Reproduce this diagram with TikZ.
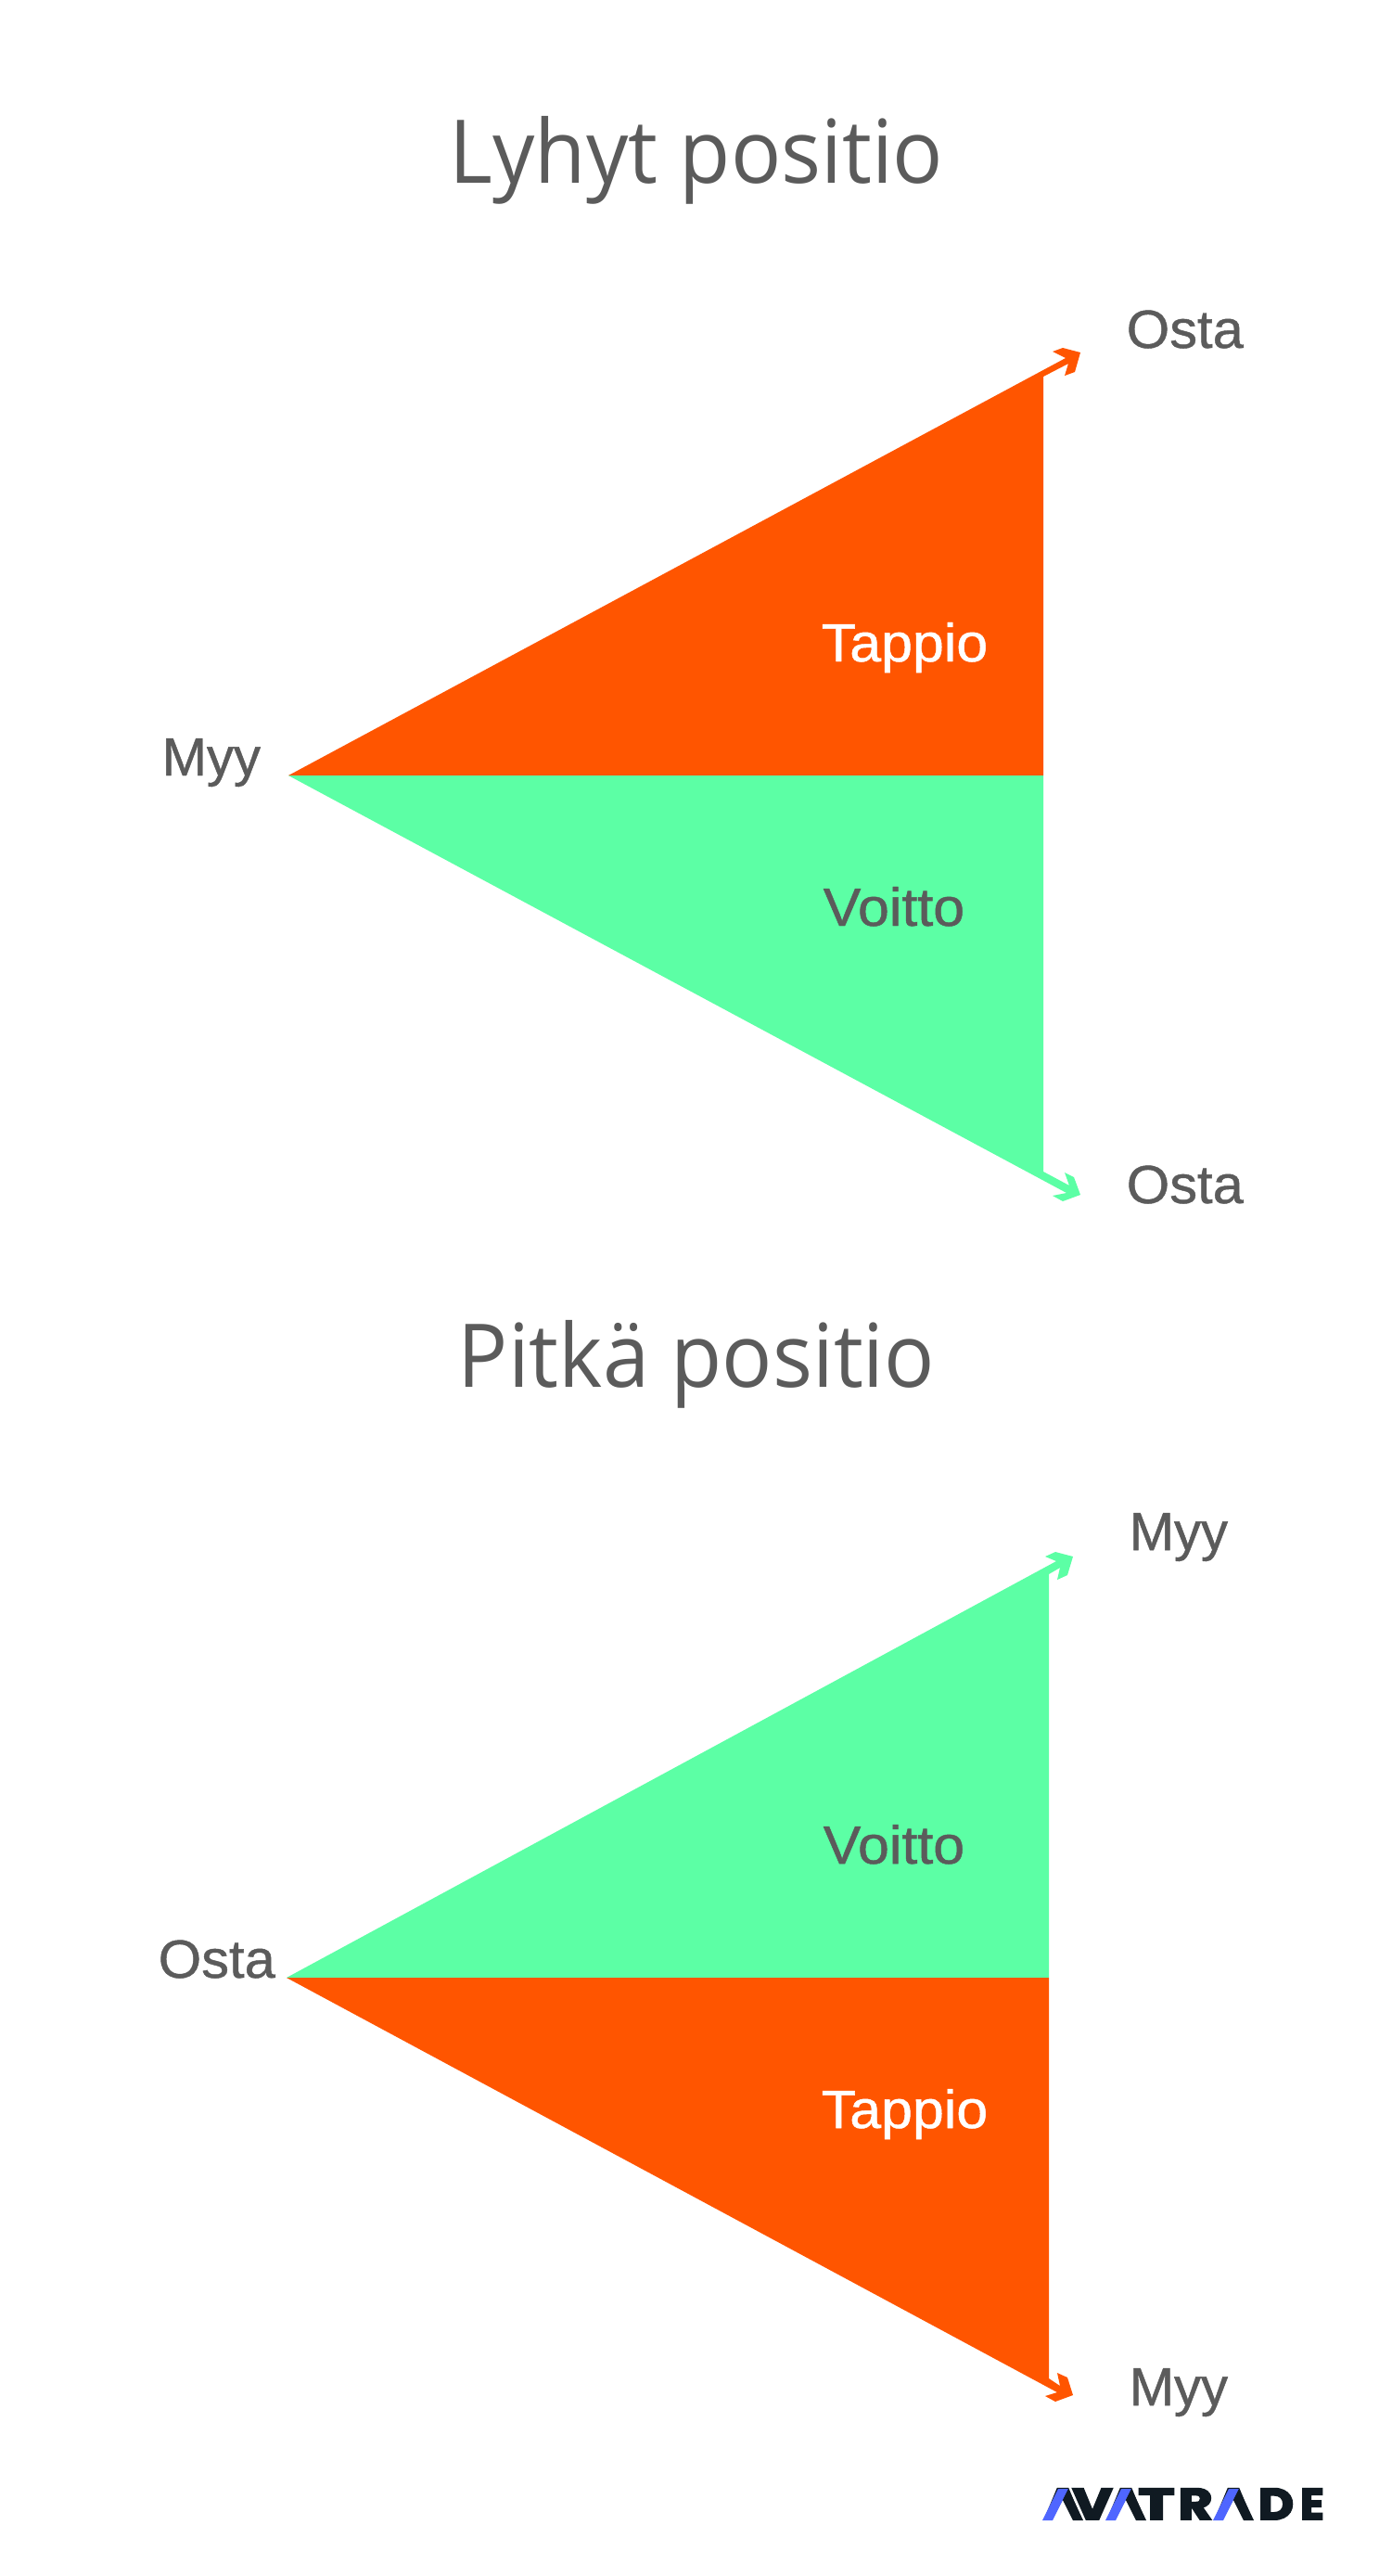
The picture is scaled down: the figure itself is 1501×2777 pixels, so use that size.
\documentclass[tikz,border=0pt]{standalone}
\usepackage{fontspec}
\setmainfont{Liberation Sans}[FakeBold=0.8]
\newfontfamily\titlefont{Open Sans}[FakeStretch=0.95]
\newfontfamily\logofont{Poppins}[BoldFont={Poppins Bold},BoldFeatures={FakeBold=4}]
\definecolor{accentloss}{RGB}{255,85,0}
\definecolor{accentgain}{RGB}{92,255,165}
\definecolor{labelgray}{RGB}{91,91,91}
\definecolor{logodark}{RGB}{16,26,34}
\definecolor{logoblue}{RGB}{79,102,255}
\tikzset{
    titletext/.style={anchor=base, inner sep=0pt, labelgray, font=\titlefont\fontsize{27}{27}\selectfont},
    pricetext/.style={anchor=base west, inner sep=0pt, labelgray, transform shape, font=\fontsize{16.5}{16.5}\selectfont},
    logoletter/.style={anchor=base, inner sep=0pt, logodark, transform shape, font=\logofont\bfseries\fontsize{13.5}{13.5}\selectfont}
}

\begin{document}
\begin{tikzpicture}[x=0.1mm, y=-0.1mm]
    \fill[white] (0,0) rectangle (1501,2777);

    % Short position
    \node[titletext] (titleshort) at (751,197) {Lyhyt positio};
    \coordinate (sell) at (311,836);
    \fill[accentloss] (sell) -- (1149,386) -- (1135,379) -- (1146,375) -- (1165,380) -- (1159,401)
        -- (1148,405) -- (1152,392) -- (1125,406) -- (1125,836) -- cycle;
    \fill[accentgain] (sell) -- (1125,836) -- (1125,1263) -- (1153,1278) -- (1148,1264) -- (1158,1269)
        -- (1165,1288) -- (1146,1295) -- (1135,1289) -- (1150,1286) -- cycle;
    \node[pricetext] (sellleft) at (174,836) {Myy};
    \node[pricetext, xscale=1.03] (buyup) at (1214,375) {Osta};
    \node[pricetext, xscale=1.03] (buydown) at (1214,1297) {Osta};
    \node[pricetext, white, xscale=1.05] (lossshort) at (885,713) {Tappio};
    \node[pricetext, xscale=1.05] (gainshort) at (887,998) {Voitto};

    % Long position
    \node[titletext] (titlelong) at (751,1495) {Pitkä positio};
    \coordinate (buy) at (309,2132);
    \fill[accentgain] (buy) -- (1139,1683) -- (1127,1678) -- (1138,1673) -- (1157,1678) -- (1151,1698)
        -- (1140,1703) -- (1143,1690) -- (1131,1697) -- (1131,2132) -- cycle;
    \fill[accentloss] (buy) -- (1131,2132) -- (1131,2564) -- (1143,2572) -- (1140,2558) -- (1151,2563)
        -- (1157,2582) -- (1138,2589) -- (1127,2583) -- (1140,2579) -- cycle;
    \node[pricetext, xscale=1.03] (buyleft) at (170,2132) {Osta};
    \node[pricetext] (sellup) at (1217,1671) {Myy};
    \node[pricetext] (selldown) at (1217,2593) {Myy};
    \node[pricetext, xscale=1.05] (gainlong) at (887,2009) {Voitto};
    \node[pricetext, white, xscale=1.05] (losslong) at (885,2294) {Tappio};

    % Logo
    \node[logoletter, xscale=1.15] (logoa) at (1146,2716) {A};
    \node[logoletter, xscale=1.15] (logoc) at (1214,2716) {A};
    \node[logoletter, xscale=1.15] (logof) at (1330,2716) {A};
    \foreach \ax in {1124,1192,1308} {
        \fill[white] (\ax+9,2719) -- (\ax+36,2719) -- (\ax+22,2695) -- cycle;
        \fill[logoblue] (\ax,2717) -- (\ax+11,2717) -- (\ax+28,2683) -- (\ax+17,2683) -- cycle;
        \fill[logodark] (\ax+28,2683) -- (\ax+44,2717) -- (\ax+33,2717) -- (\ax+22,2695) -- cycle;
    }
    \node[logoletter, xscale=1.25] (logob) at (1178,2716) {V};
    \node[logoletter, xscale=1.4] (logod) at (1247,2716) {T};
    \node[logoletter, xscale=1.2] (logoe) at (1289,2716) {R};
    \node[logoletter, xscale=1.1] (logog) at (1376,2716) {D};
    \node[logoletter, xscale=1.0] (logoh) at (1415,2716) {E};
\end{tikzpicture}
\end{document}
